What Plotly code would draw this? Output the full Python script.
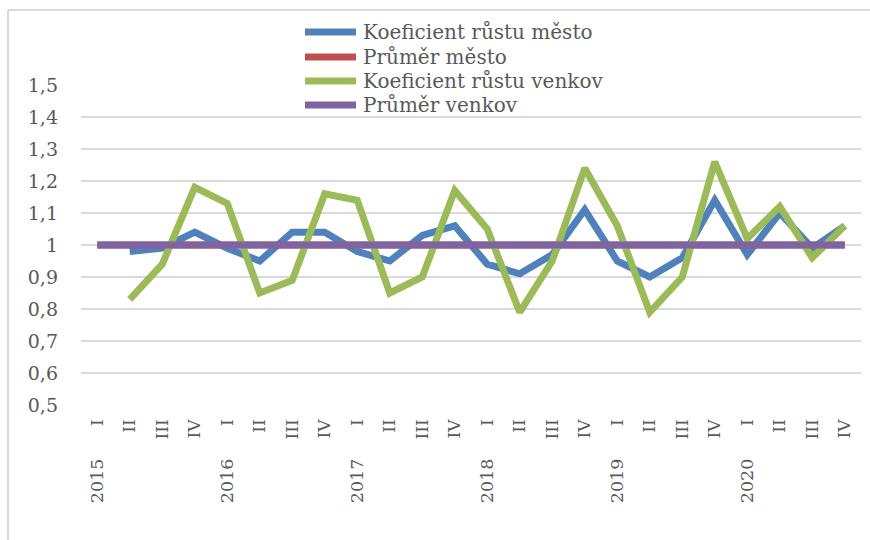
import plotly.graph_objects as go

quarters = ["I", "II", "III", "IV"] * 6
years = ["2015", "2016", "2017", "2018", "2019", "2020"]

koef_mesto = [None, 0.98, 0.99, 1.04, 0.99, 0.95, 1.04, 1.04, 0.98, 0.95, 1.03, 1.06,
              0.94, 0.91, 0.97, 1.11, 0.95, 0.90, 0.96, 1.14, 0.97, 1.10, 0.99, 1.06]
prumer_mesto = [1.0] * 24
koef_venkov = [None, 0.83, 0.94, 1.18, 1.13, 0.85, 0.89, 1.16, 1.14, 0.85, 0.90, 1.17,
               1.05, 0.79, 0.95, 1.24, 1.06, 0.79, 0.90, 1.26, 1.02, 1.12, 0.96, 1.06]
prumer_venkov = [1.0] * 24

x = list(range(len(quarters)))
FONT = "DejaVu Serif"
GRAY = "#595959"

# plot area in pixels (for converting legend/frame positions to paper coords)
L, R, T, B = 81, 861, 85, 405
def px(xp):
    return (xp - L) / (R - L)
def py(yp):
    return (B - yp) / (B - T)

fig = go.Figure()
series = [
    ("Koeficient růstu město", koef_mesto, "#4F81BD"),
    ("Průměr město", prumer_mesto, "#C0504D"),
    ("Koeficient růstu venkov", koef_venkov, "#9BBB59"),
    ("Průměr venkov", prumer_venkov, "#8064A2"),
]
legend_y = [32, 57, 81, 105]
for (name, vals, col), ly in zip(series, legend_y):
    fig.add_trace(go.Scatter(x=x, y=vals, name=name, mode="lines",
                             line=dict(color=col, width=7, shape="linear"),
                             connectgaps=False, showlegend=False))
    fig.add_shape(type="line", xref="paper", yref="paper", x0=px(305), x1=px(356),
                  y0=py(ly), y1=py(ly), line=dict(color=col, width=7), layer="above")
    fig.add_annotation(x=px(361), y=py(ly), xref="paper", yref="paper", text=name,
                       showarrow=False, xanchor="left", yanchor="middle",
                       font=dict(family=FONT, size=20, color=GRAY))

for i, yr in enumerate(years):
    fig.add_annotation(x=i * 4, y=py(481), xref="x", yref="paper", text=yr,
                       textangle=-90, showarrow=False, yanchor="middle",
                       font=dict(family=FONT, size=17.5, color=GRAY))

# chart frame
fig.add_shape(type="line", xref="paper", yref="paper", x0=px(8), x1=px(880),
              y0=py(10), y1=py(10), line=dict(color="#D9D9D9", width=2))
fig.add_shape(type="line", xref="paper", yref="paper", x0=px(8), x1=px(8),
              y0=py(10), y1=py(550), line=dict(color="#D9D9D9", width=2))

fig.update_layout(
    width=870, height=540,
    margin=dict(l=L, r=870 - R, t=T, b=540 - B, autoexpand=False),
    paper_bgcolor="white", plot_bgcolor="white",
    font=dict(family=FONT, color=GRAY),
    showlegend=False,
    xaxis=dict(range=[-0.5, 23.5], tickmode="array", tickvals=x, ticktext=quarters,
               tickangle=-90, showgrid=False, zeroline=False, showline=False,
               ticks="", tickfont=dict(family=FONT, size=17, color=GRAY),
               ticklabelstandoff=10),
    yaxis=dict(range=[0.5, 1.5], tickmode="array",
               tickvals=[0.5, 0.6, 0.7, 0.8, 0.9, 1.0, 1.1, 1.2, 1.3, 1.4, 1.5],
               ticktext=["0,5", "0,6", "0,7", "0,8", "0,9", "1", "1,1", "1,2", "1,3", "1,4", "1,5"],
               showgrid=True, gridcolor="#D9D9D9", gridwidth=2, zeroline=False,
               showline=False, ticks="", tickfont=dict(family=FONT, size=19, color=GRAY),
               ticklabelstandoff=22),
)

fig.write_html("out.html", config={"displayModeBar": False},
               post_script="document.body.style.margin='0';")
